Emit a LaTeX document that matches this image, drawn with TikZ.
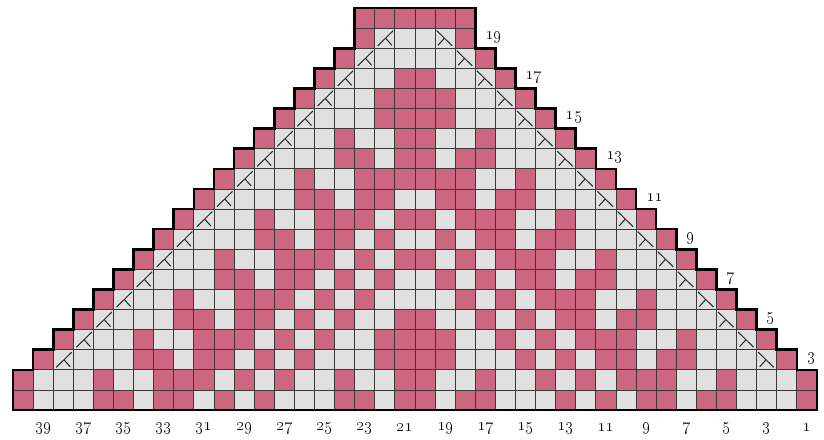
\documentclass[tikz,border=0pt]{standalone}
\usepackage{tikz}
\usetikzlibrary{positioning}
\usepackage{xcolor}
\definecolor{rose}{HTML}{CC6681}
\definecolor{purl}{HTML}{E0E0E0}
\definecolor{gridline}{HTML}{3A3A3A}

\begin{document}
\begin{tikzpicture}[
    x=20.1pt, y=20.1pt,
    cc/.style={fill=rose, draw=gridline, line width=0.8pt},
    mc/.style={fill=purl, draw=gridline, line width=0.8pt},
    dec/.style={line width=1pt, draw=black!85},
    outline/.style={line width=2.6pt, draw=black, line join=miter},
    num/.style={font=\fontsize{16}{18}\selectfont, inner sep=0pt}
]
\useasboundingbox (-0.647,-1.443) rectangle (40.35,20.40);

% left half of each row, right half is its mirror
% 0 = none, 1 = contrast, 2 = main, 3 = decrease
\foreach \r/\row in {
    1/{1,2,2,2,1,1,2,1,1,2,1,2,1,2,2,2,1,1,2,1},
    2/{1,2,2,2,1,2,2,1,1,1,2,1,2,1,2,2,1,2,2,1},
    3/{0,1,3,2,2,2,1,1,2,1,1,2,1,2,1,2,2,2,1,1},
    4/{0,0,1,3,2,2,1,2,2,1,1,1,2,1,2,1,2,2,1,1},
    5/{0,0,0,1,3,2,2,2,1,1,2,1,1,2,1,2,1,2,2,1},
    6/{0,0,0,0,1,3,2,2,1,2,2,1,1,1,2,1,2,1,2,2},
    7/{0,0,0,0,0,1,3,2,2,2,1,1,2,1,1,2,1,2,1,2},
    8/{0,0,0,0,0,0,1,3,2,2,1,2,2,1,1,1,2,1,2,1},
    9/{0,0,0,0,0,0,0,1,3,2,2,2,1,1,2,1,1,2,1,2},
    10/{0,0,0,0,0,0,0,0,1,3,2,2,1,2,2,1,1,1,2,1},
    11/{0,0,0,0,0,0,0,0,0,1,3,2,2,2,1,1,2,1,1,2},
    12/{0,0,0,0,0,0,0,0,0,0,1,3,2,2,1,2,2,1,1,1},
    13/{0,0,0,0,0,0,0,0,0,0,0,1,3,2,2,2,1,1,2,1},
    14/{0,0,0,0,0,0,0,0,0,0,0,0,1,3,2,2,1,2,2,1},
    15/{0,0,0,0,0,0,0,0,0,0,0,0,0,1,3,2,2,2,1,1},
    16/{0,0,0,0,0,0,0,0,0,0,0,0,0,0,1,3,2,2,1,1},
    17/{0,0,0,0,0,0,0,0,0,0,0,0,0,0,0,1,3,2,2,1},
    18/{0,0,0,0,0,0,0,0,0,0,0,0,0,0,0,0,1,3,2,2},
    19/{0,0,0,0,0,0,0,0,0,0,0,0,0,0,0,0,0,1,3,2},
    20/{0,0,0,0,0,0,0,0,0,0,0,0,0,0,0,0,0,1,1,1}}{
  \foreach \v [count=\c] in \row {
    \ifnum\v=1\relax
      \path[cc] (\c-1,\r-1) rectangle ++(1,1);
      \path[cc] (40-\c,\r-1) rectangle ++(1,1);
    \fi
    \ifnum\v>1\relax
      \path[mc] (\c-1,\r-1) rectangle ++(1,1);
      \path[mc] (40-\c,\r-1) rectangle ++(1,1);
    \fi
    \ifnum\v=3\relax
      \draw[dec] (\c-0.08,\r-0.12) -- (\c-0.85,\r-0.88)
                 (\c-0.465,\r-0.5) -- (\c-0.15,\r-0.85);
      \draw[dec] (40.08-\c,\r-0.12) -- (40.85-\c,\r-0.88)
                 (40.465-\c,\r-0.5) -- (40.15-\c,\r-0.85);
    \fi
  }
}

% stepped border
\draw[outline] (0,0) -- (40,0)
    \foreach \k in {2,...,18} {-- (42-\k,\k) -- (41-\k,\k)}
    -- (23,20) -- (17,20)
    \foreach \k in {18,...,2} {-- (\k-1,\k) -- (\k-2,\k)}
    -- cycle;

% stitch numbers
\foreach \n in {1,3,...,39}
  \node[num] (st\n) at (40.5-\n,-0.9) {\oldstylenums{\n}};
% row numbers
\foreach \r in {3,5,...,19}
  \node[num, anchor=west] (rw\r) at (42.5-\r,\r-0.45) {\oldstylenums{\r}};
\end{tikzpicture}
\end{document}
